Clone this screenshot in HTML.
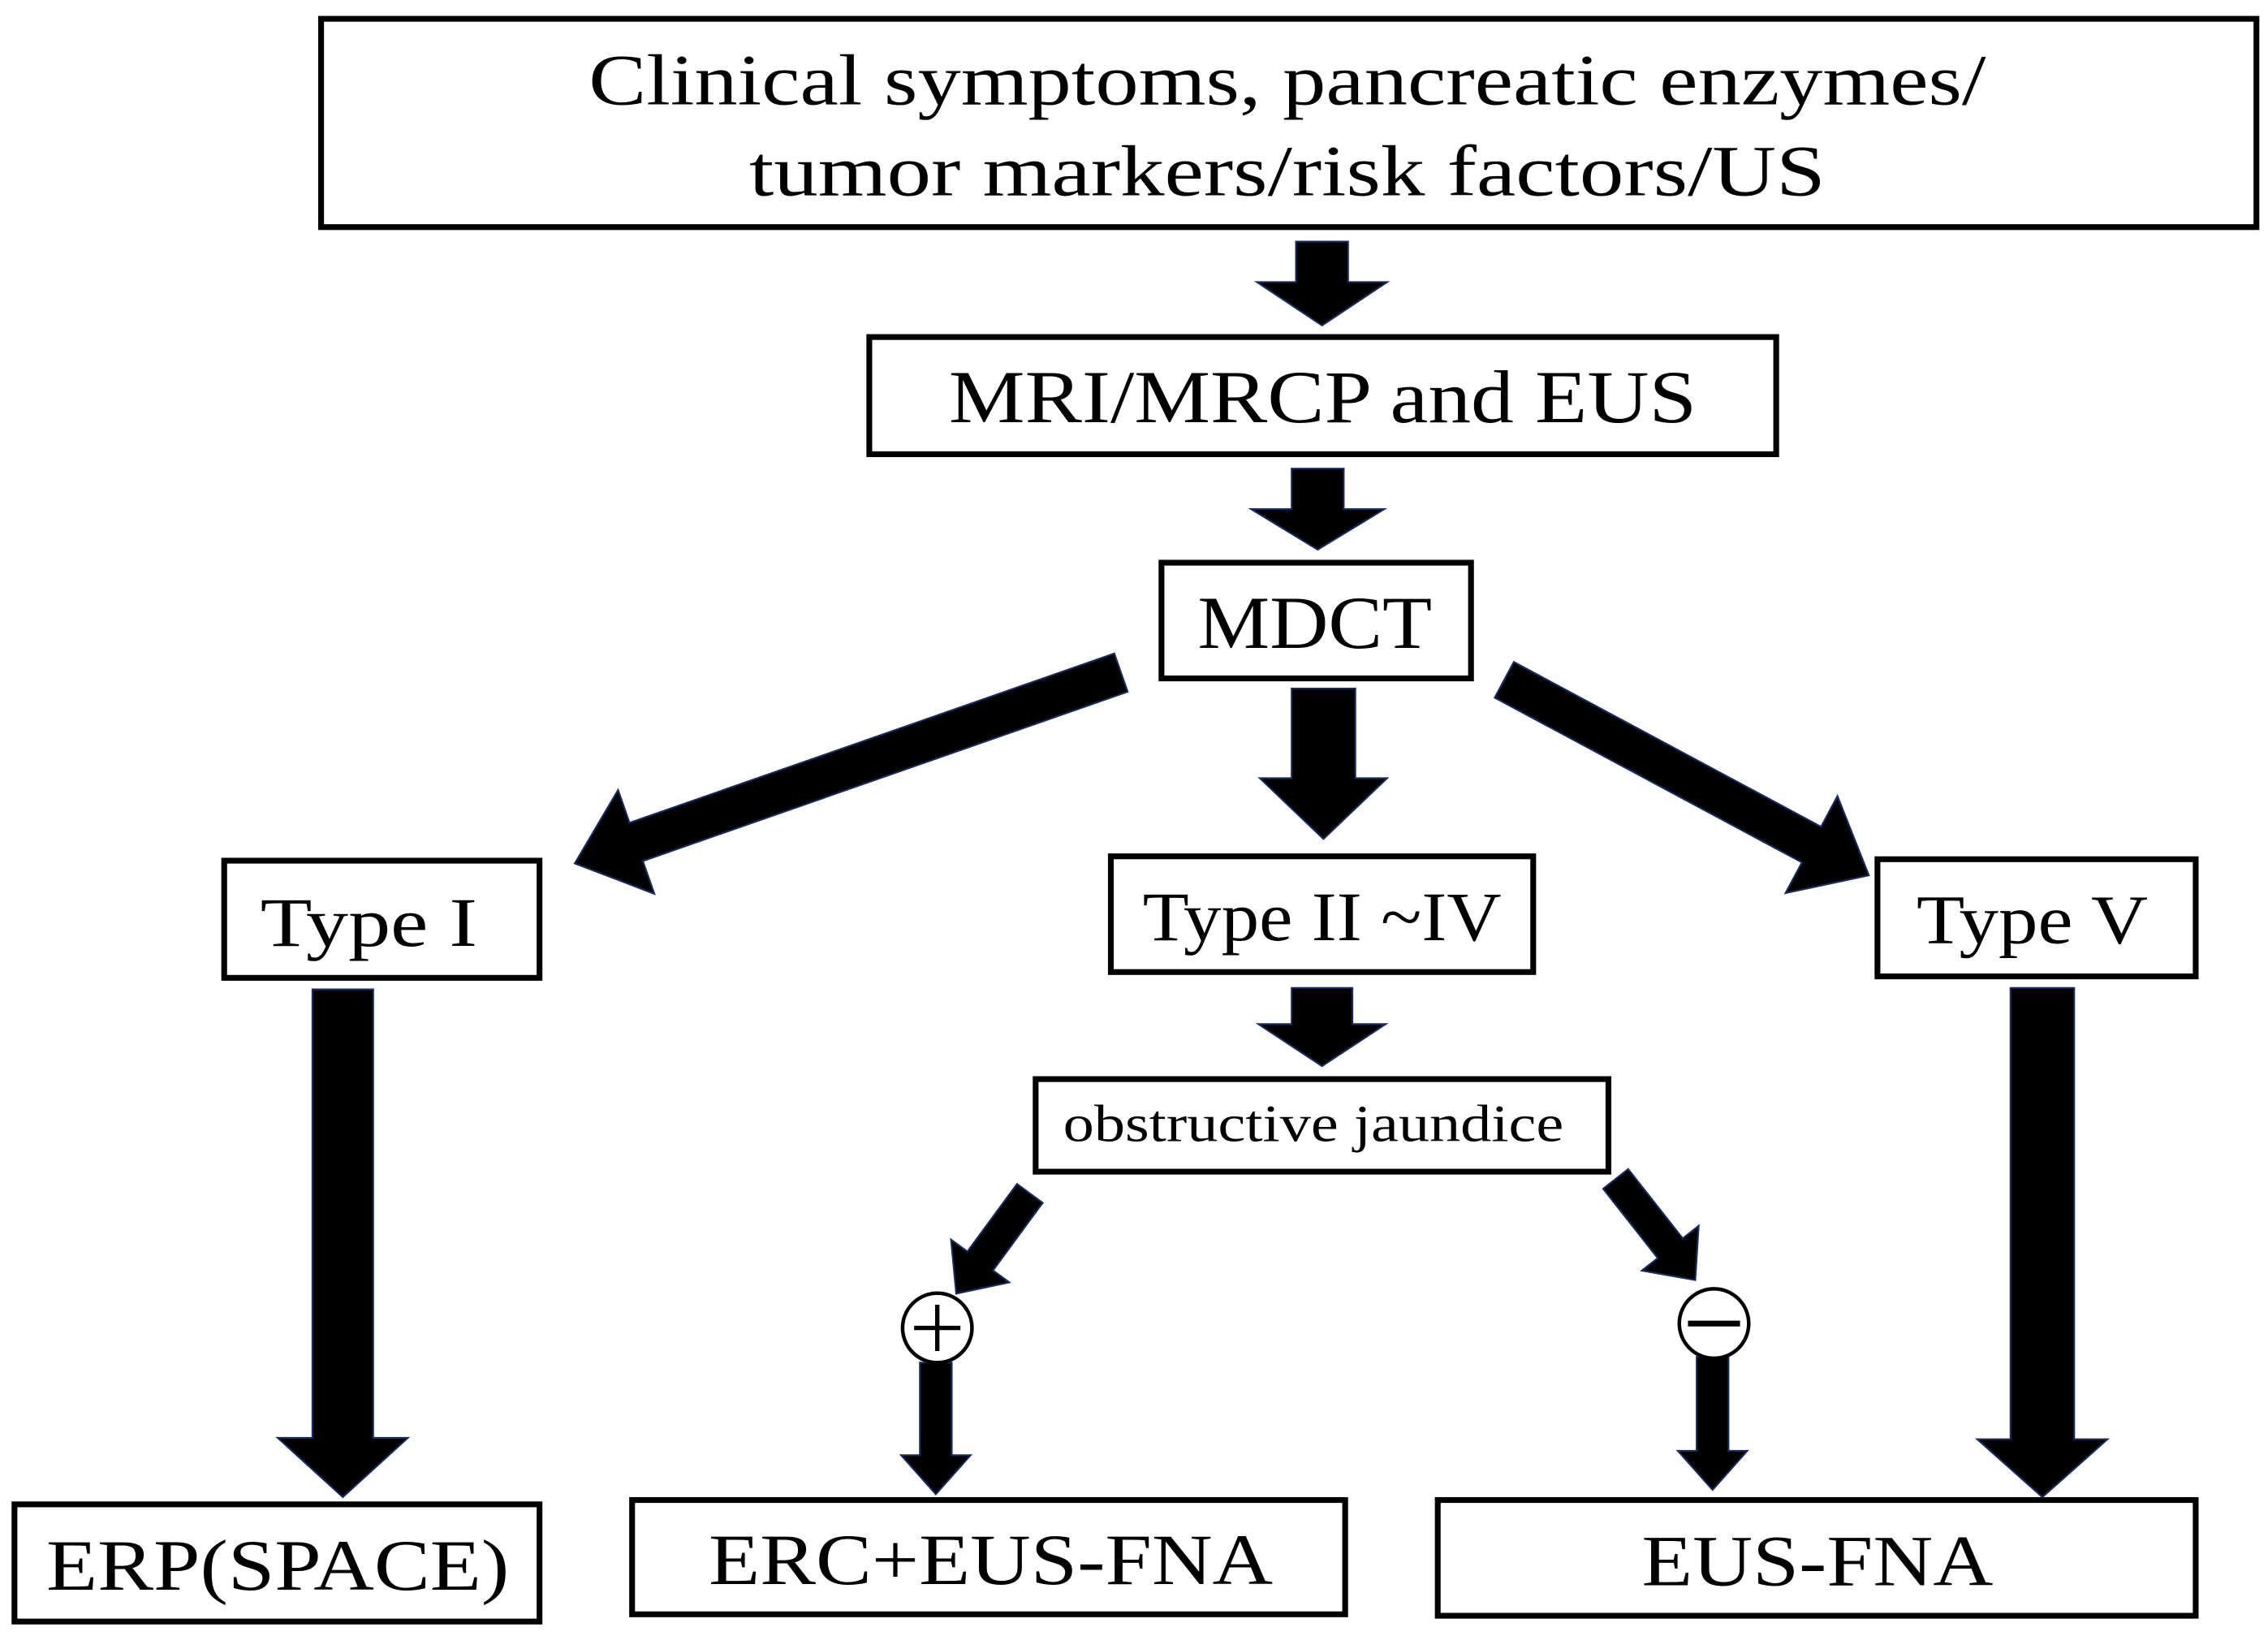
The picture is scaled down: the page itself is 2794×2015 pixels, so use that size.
<!DOCTYPE html>
<html><head><meta charset="utf-8"><style>
html,body{margin:0;padding:0;background:#fff;}
svg{display:block;}
text{font-family:"Liberation Serif","Noto Serif CJK SC",serif;fill:#000;}
</style></head><body>
<svg width="2794" height="2015" viewBox="0 0 1568 1131" preserveAspectRatio="none" xmlns="http://www.w3.org/2000/svg">
<defs></defs>
<g fill="none" stroke="#000" stroke-width="4">
<rect x="222" y="13" width="1338" height="144"/>
<rect x="601" y="233" width="627" height="81"/>
<rect x="803" y="389" width="214" height="80"/>
<rect x="155" y="595" width="218" height="81"/>
<rect x="768" y="592" width="292" height="80"/>
<rect x="1298" y="594" width="220" height="81"/>
<rect x="716" y="746" width="396" height="64"/>
<rect x="10" y="1040" width="363" height="81"/>
<rect x="437" y="1037" width="493" height="79"/>
<rect x="994" y="1037" width="524" height="80"/>
</g>
<g fill="#000" stroke="#1a2a5a" stroke-width="1.2">
<!-- arrow path: M0,-w L L-hl,-w L L-hl,-h L L,0 L L-hl,h L L-hl,w L0,w Z -->
<path transform="translate(914,167) rotate(90)" d="M0,-18 L28,-18 L28,-45 L58,0 L28,45 L28,18 L0,18 Z"/>
<path transform="translate(911,324) rotate(90)" d="M0,-18 L28,-18 L28,-46 L56,0 L28,46 L28,18 L0,18 Z"/>
<path transform="translate(775,465) rotate(160.75)" d="M0,-14 L355,-14 L355,-38 L400,0 L355,38 L355,14 L0,14 Z"/>
<path transform="translate(915,476) rotate(90)" d="M0,-22 L62,-22 L62,-44 L104,0 L62,44 L62,22 L0,22 Z"/>
<path transform="translate(1040,470) rotate(28.2)" d="M0,-14 L241,-14 L241,-38 L286,0 L241,38 L241,14 L0,14 Z"/>
<path transform="translate(914,683) rotate(90)" d="M0,-21 L25,-21 L25,-44 L54,0 L25,44 L25,21 L0,21 Z"/>
<path transform="translate(712,825) rotate(126.3)" d="M0,-11 L58,-11 L58,-25 L86,0 L58,25 L58,11 L0,11 Z"/>
<path transform="translate(647,942) rotate(90)" d="M0,-11 L64,-11 L64,-24 L91,0 L64,24 L64,11 L0,11 Z"/>
<path transform="translate(1117,815) rotate(51.8)" d="M0,-11 L61,-11 L61,-25 L89,0 L61,25 L61,11 L0,11 Z"/>
<path transform="translate(1184,938) rotate(90)" d="M0,-11 L65,-11 L65,-24 L92,0 L65,24 L65,11 L0,11 Z"/>
<path transform="translate(237,684) rotate(90)" d="M0,-21 L310,-21 L310,-45 L351,0 L310,45 L310,21 L0,21 Z"/>
<path transform="translate(1412,683) rotate(90)" d="M0,-22 L312,-22 L312,-45 L352,0 L312,45 L312,22 L0,22 Z"/>
</g>
<circle cx="648" cy="918" r="24" fill="#fff" stroke="#000" stroke-width="2.5"/>
<line x1="632" y1="918" x2="664" y2="918" stroke="#000" stroke-width="3"/>
<line x1="648" y1="902" x2="648" y2="934" stroke="#000" stroke-width="3"/>
<circle cx="1185" cy="915" r="24" fill="#fff" stroke="#000" stroke-width="2.5"/>
<line x1="1167" y1="915" x2="1203" y2="915" stroke="#000" stroke-width="4"/>
<text x="407" y="72" font-size="50" textLength="966" lengthAdjust="spacingAndGlyphs">Clinical symptoms, pancreatic enzymes/</text>
<text x="518" y="135" font-size="50" textLength="744" lengthAdjust="spacingAndGlyphs">tumor markers/risk factors/US</text>
<text x="656" y="292" font-size="52" textLength="517" lengthAdjust="spacingAndGlyphs">MRI/MRCP and EUS</text>
<text x="828" y="448" font-size="52" textLength="162" lengthAdjust="spacingAndGlyphs">MDCT</text>
<text x="180" y="654" font-size="48" textLength="150" lengthAdjust="spacingAndGlyphs">Type I</text>
<text x="790" y="650" font-size="48" textLength="248" lengthAdjust="spacingAndGlyphs">Type II ~IV</text>
<text x="1325" y="652" font-size="48" textLength="160" lengthAdjust="spacingAndGlyphs">Type V</text>
<text x="735" y="789" font-size="36" textLength="346" lengthAdjust="spacingAndGlyphs">obstructive jaundice</text>
<text x="32" y="1099" font-size="50" textLength="320" lengthAdjust="spacingAndGlyphs">ERP(SPACE)</text>
<text x="490" y="1095" font-size="50" textLength="390" lengthAdjust="spacingAndGlyphs">ERC+EUS-FNA</text>
<text x="1135" y="1096" font-size="50" textLength="243" lengthAdjust="spacingAndGlyphs">EUS-FNA</text>
</svg>
</body></html>
